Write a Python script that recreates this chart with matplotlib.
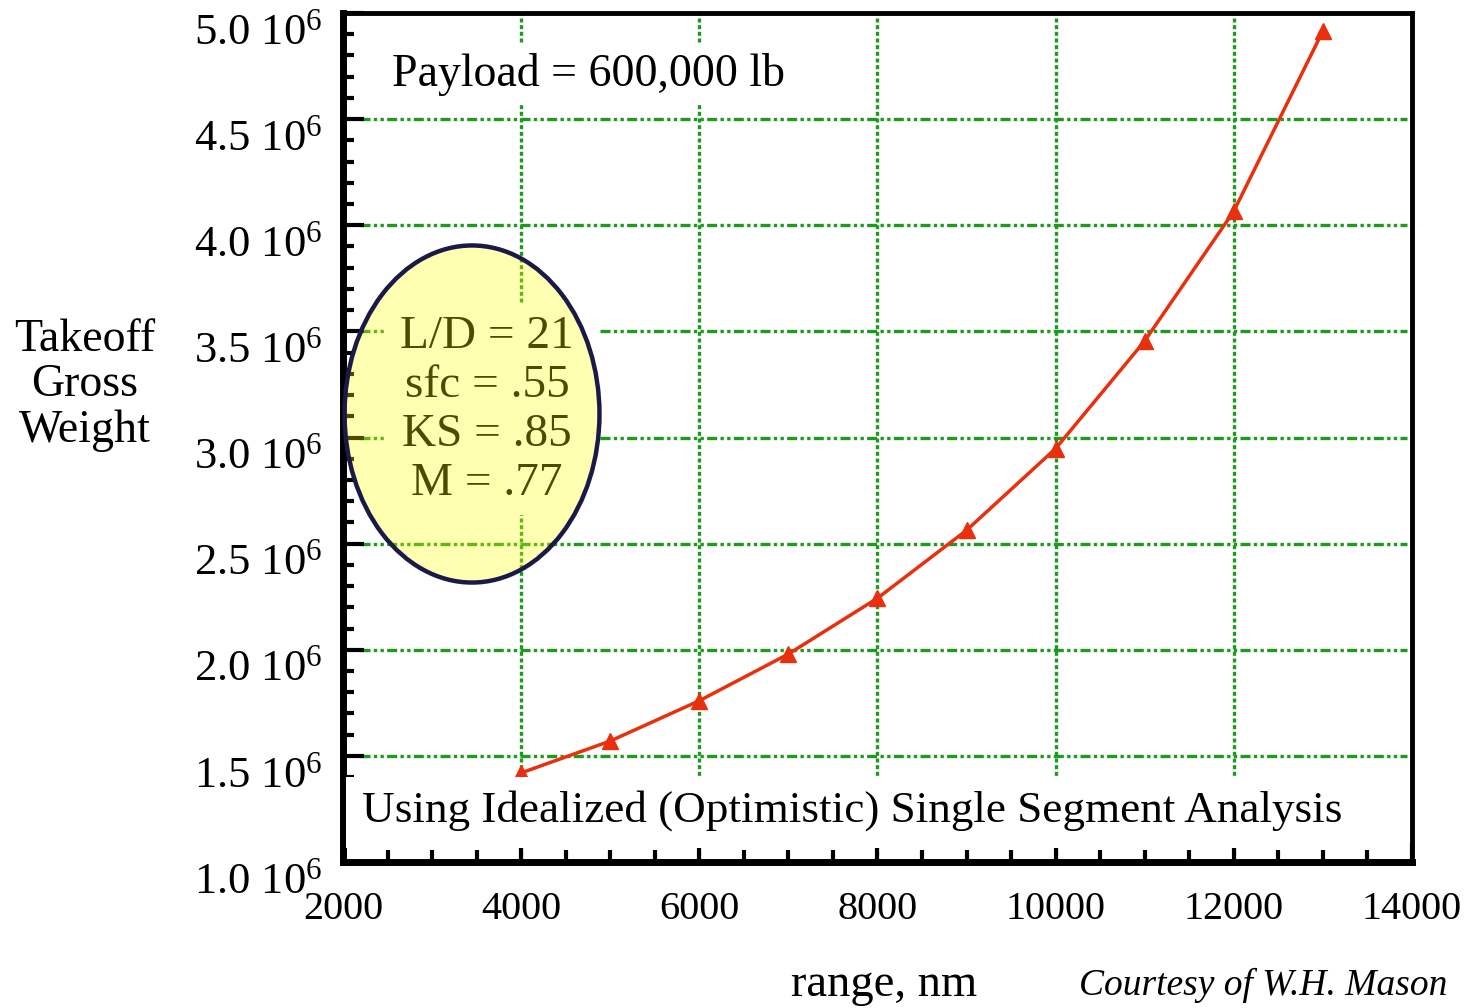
import numpy as np
import matplotlib
matplotlib.use("Agg")
import matplotlib.pyplot as plt
from matplotlib.patches import Ellipse, Rectangle
from matplotlib.ticker import FixedLocator, MultipleLocator

plt.rcParams['font.family'] = ['Liberation Serif', 'DejaVu Serif']
plt.rcParams['mathtext.fontset'] = 'custom'
plt.rcParams['mathtext.rm'] = 'Liberation Serif'
plt.rcParams['mathtext.it'] = 'Liberation Serif:italic'

# takeoff gross weight vs. range, single segment Breguet estimate
range_nm = [4000, 5000, 6000, 7000, 8000, 9000, 10000, 11000, 12000, 13000]
togw_lb = [1.42e6, 1.57e6, 1.76e6, 1.98e6, 2.243e6, 2.563e6, 2.948e6, 3.455e6, 4.066e6, 4.915e6]

xticks = [2000, 4000, 6000, 8000, 10000, 12000, 14000]
yticks = [1.0e6, 1.5e6, 2.0e6, 2.5e6, 3.0e6, 3.5e6, 4.0e6, 4.5e6, 5.0e6]
ytick_labels = ["1.0 10$^{6}$", "1.5 10$^{6}$", "2.0 10$^{6}$", "2.5 10$^{6}$",
                "3.0 10$^{6}$", "3.5 10$^{6}$", "4.0 10$^{6}$", "4.5 10$^{6}$",
                "5.0 10$^{6}$"]
xgrid = [4000, 6000, 8000, 10000, 12000]
ygrid = [1.5e6, 2.0e6, 2.5e6, 3.0e6, 3.5e6, 4.0e6, 4.5e6]
params = ["L/D = 21", "sfc = .55", "KS = .85", "M = .77"]

green = '#1e9a1e'
red = '#e8300e'

fig = plt.figure(figsize=(14.72, 10.08), dpi=100)
ax = fig.add_axes([0.2330, 0.1448, 0.7262, 0.8423])
ax.set_xlim(2000, 14000)
ax.set_ylim(1.0e6, 5.0e6)

# grid drawn by hand so the horizontal lines stop short of the left spine
for gx in xgrid:
    ax.axvline(gx, color=green, lw=2.4, dashes=(1.2, 0.8), zorder=1)
for gy in ygrid:
    ax.axhline(gy, xmin=0.016, xmax=0.995, color=green, lw=2.4,
               dashes=(3, 1, 1, 1, 1, 1), zorder=1)

ax.plot(range_nm, togw_lb, color=red, lw=2.5, marker='^', ms=12,
        markeredgecolor=red, zorder=3)

ax.xaxis.set_major_locator(FixedLocator(xticks))
ax.xaxis.set_minor_locator(MultipleLocator(500))
ax.yaxis.set_major_locator(FixedLocator(yticks))
ax.yaxis.set_minor_locator(MultipleLocator(1.0e5))
ax.set_xticklabels([str(v) for v in xticks])
ax.set_yticklabels(ytick_labels)

ax.tick_params(axis='y', which='major', direction='in', length=15, width=3,
               labelsize=32, pad=15, right=False)
ax.tick_params(axis='y', which='minor', direction='in', length=8, width=3,
               right=False)
ax.tick_params(axis='x', which='major', direction='in', length=14, width=3,
               labelsize=29, pad=21, top=False)
ax.tick_params(axis='x', which='minor', direction='in', length=9, width=3,
               top=False)
for lab in ax.get_yticklabels():
    lab.set_va('top')

ax.spines['left'].set_linewidth(5)
ax.spines['bottom'].set_linewidth(5)
ax.spines['top'].set_linewidth(3.5)
ax.spines['right'].set_linewidth(3.5)

# white band behind the footnote inside the axes
ax.add_patch(Rectangle((0.003, 0.0165), 0.992, 0.0835,
                       transform=ax.transAxes, facecolor='white',
                       edgecolor='none', zorder=4))
ax.text(0.0178, 0.0612, "Using Idealized (Optimistic) Single Segment Analysis",
        transform=ax.transAxes, fontsize=32.5, ha='left', va='center', zorder=5)

ax.text(0.0458, 0.927, "Payload = 600,000 lb", transform=ax.transAxes,
        fontsize=33, ha='left', va='center', zorder=5,
        bbox=dict(facecolor='white', edgecolor='none', pad=6))

# parameter bubble
ax.add_patch(Rectangle((0.039, 0.409), 0.20, 0.247, transform=ax.transAxes,
                       facecolor='white', edgecolor='none', zorder=4))
ax.text(0.1347, 0.5325, "\n".join(params), transform=ax.transAxes,
        fontsize=34, ha='center', va='center', linespacing=1.2, zorder=5)
ax.add_patch(Ellipse((0.1207, 0.5277), 0.2385, 0.397, transform=ax.transAxes,
                     facecolor=(1, 1, 0, 0.3), edgecolor='#1a1a48', lw=3.2,
                     zorder=6, clip_on=False))

fig.text(0.0577, 0.618, "Takeoff\nGross\nWeight", fontsize=33, ha='center',
         va='center', linespacing=1.1)
fig.text(0.6005, 0.0228, "range, nm", fontsize=33.5, ha='center', va='center')
fig.text(0.983, 0.0228, "Courtesy of W.H. Mason", fontsize=27, style='italic',
         ha='right', va='center')

fig.savefig("out.png", dpi=100)
